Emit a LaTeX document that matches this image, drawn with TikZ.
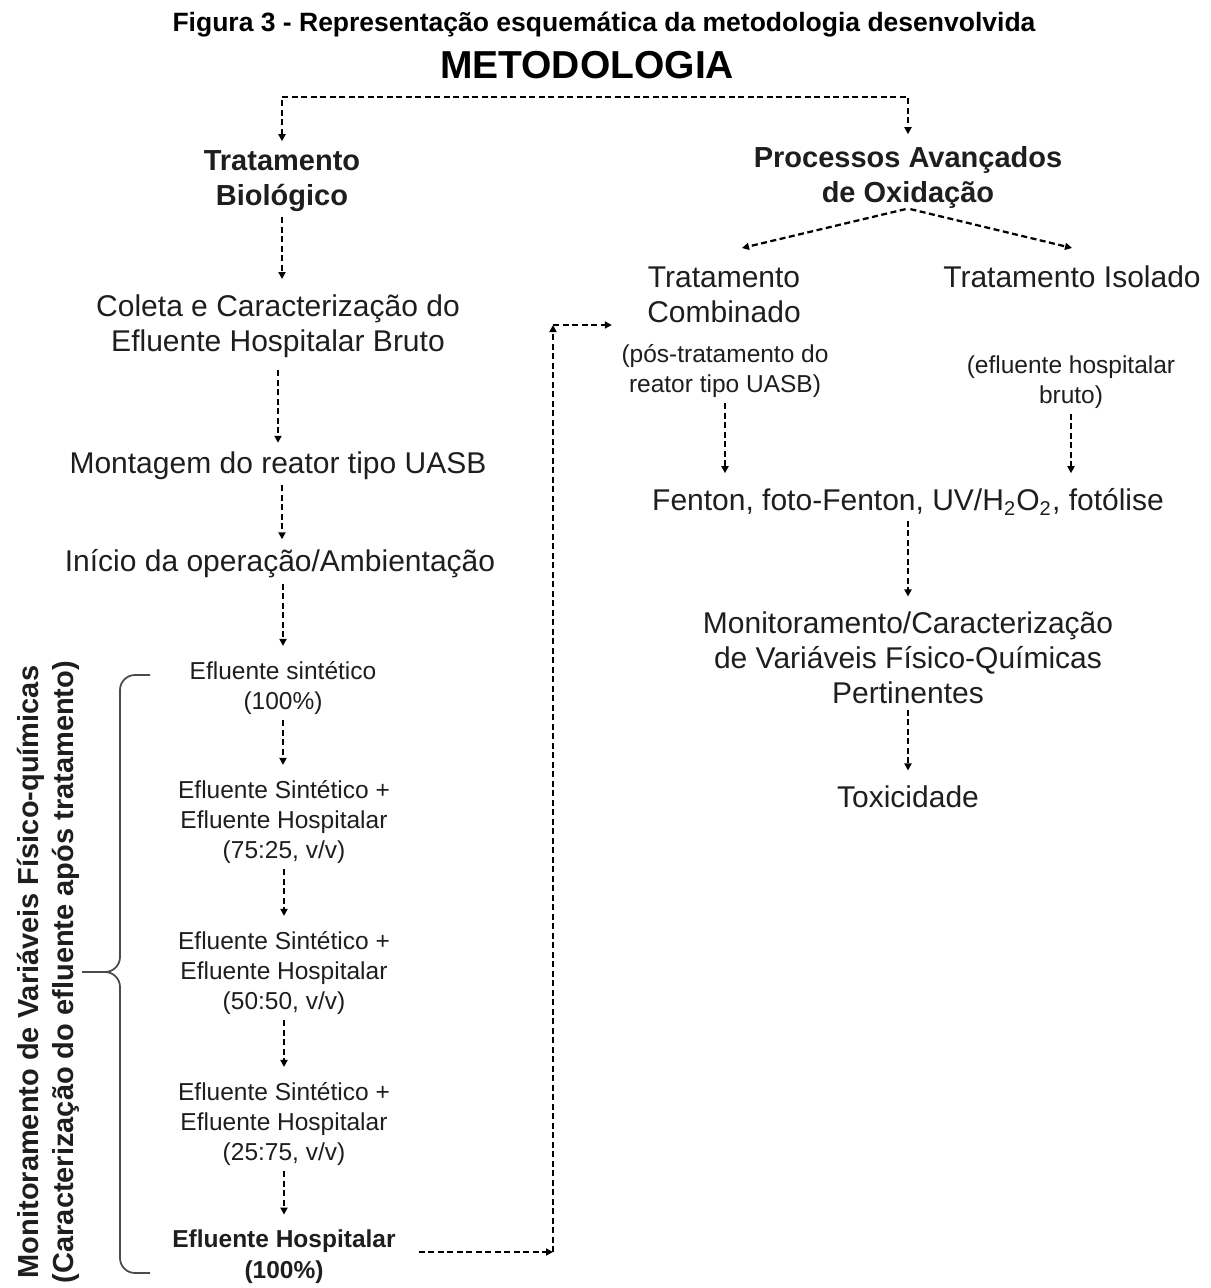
\documentclass[tikz,border=0pt]{standalone}
\usepackage{fontspec}
\setmainfont{Liberation Sans}
\usetikzlibrary{arrows.meta,positioning,calc}
\definecolor{Ink}{HTML}{1E1E1E}

\begin{document}
\begin{tikzpicture}[x=0.4pt,y=-0.4pt,
    txt/.style={inner sep=0pt,align=center,text=Ink,font={\fontsize{12}{14}\selectfont}},
    txtsmall/.style={inner sep=0pt,align=center,text=Ink,font={\fontsize{9.8}{12}\selectfont}},
    txtbold/.style={inner sep=0pt,align=center,text=Ink,font={\bfseries\fontsize{11.6}{14}\selectfont}},
    smallbold/.style={inner sep=0pt,align=center,text=Ink,font={\bfseries\fontsize{9.8}{12.4}\selectfont}},
    flow/.style={line width=0.9pt,dash pattern=on 2.4pt off 1.4pt,-{Triangle[length=2.8pt,width=2.8pt]}},
    gap/.style={flow,shorten <=2pt,shorten >=6pt}]
        \useasboundingbox (0,0) rectangle (1211,1288);
        % titles
        \node[inner sep=0pt,font={\bfseries\fontsize{10.6}{12}\selectfont}] (fig) at (604,25) {Figura 3 - Representação esquemática da metodologia desenvolvida};
        \node[inner sep=0pt,font={\bfseries\fontsize{15.6}{18}\selectfont}] (met) at (587,65) {METODOLOGIA};
        % left column
        \node[txtbold] (tb) at (282,181) {Tratamento\\Biológico};
        \node[txt] (cc) at (278,326) {Coleta e Caracterização do\\Efluente Hospitalar Bruto};
        \node[txt] (mr) at (278,466) {Montagem do reator tipo UASB};
        \node[txt] (io) at (280,564) {Início da operação/Ambientação};
        \node[txtsmall] (es) at (283,688) {Efluente sintético\\(100\%)};
        \node[txtsmall] (m75) at (284,822) {Efluente Sintético +\\Efluente Hospitalar\\(75:25, v/v)};
        \node[txtsmall] (m50) at (284,973) {Efluente Sintético +\\Efluente Hospitalar\\(50:50, v/v)};
        \node[txtsmall] (m25) at (284,1124) {Efluente Sintético +\\Efluente Hospitalar\\(25:75, v/v)};
        \node[smallbold] (eh) at (284,1257) {Efluente Hospitalar\\(100\%)};
        \node[txtbold,rotate=90] (mon) at (48,972) {Monitoramento de Variáveis Físico-químicas\\(Caracterização do efluente após tratamento)};
        % right column
        \node[txtbold] (pao) at (908,177) {Processos Avançados\\de Oxidação};
        \node[txt] (tc) at (724,295) {Tratamento\\Combinado};
        \node[txt] (ti) at (1072,277) {Tratamento Isolado};
        \node[txtsmall] (pt) at (725,371) {(pós-tratamento do\\reator tipo UASB)};
        \node[txtsmall] (ehb) at (1071,382) {(efluente hospitalar\\bruto)};
        \node[txt] (fen) at (908,502) {Fenton, foto-Fenton, UV/H\textsubscript{2}O\textsubscript{2}, fotólise};
        \node[txt] (mc) at (908,658) {Monitoramento/Caracterização\\de Variáveis Físico-Químicas\\Pertinentes};
        \node[txt] (tox) at (908,797) {Toxicidade};
        \coordinate (bar) at (600,97);
        \coordinate (tcin) at (742,248);
        \coordinate (tiin) at (1072,248);
        \coordinate (c1) at (553,1252);
        \coordinate (c2) at (553,325);
        % connectors
        \draw[flow,{Triangle[length=2.8pt,width=2.8pt]}-{Triangle[length=2.8pt,width=2.8pt]},shorten <=3.5pt,shorten >=4.5pt] (tb.north) |- (bar) -| (pao.north);
        \draw[gap] (tb.south) -- (tb.south |- cc.north);
        \draw[gap,shorten <=5pt,shorten >=3.5pt] (cc.south) -- (cc.south |- mr.north);
        \draw[gap,shorten >=4pt] (mr.south -| tb.south) -- (tb.south |- io.north);
        \draw[gap] (io.south -| es.south) -- (es.north);
        \draw[gap] (es.south) -- (es.south |- m75.north);
        \draw[gap] (m75.south) -- (m50.north);
        \draw[gap] (m50.south) -- (m25.north);
        \draw[gap] (m25.south) -- (eh.north);
        \draw[flow,shorten <=1pt] (pao.south) -- (tcin);
        \draw[flow,shorten <=1pt] (pao.south) -- (tiin);
        \draw[gap] (pt.south) -- (pt.south |- fen.north);
        \draw[gap] (ehb.south) -- (ehb.south |- fen.north);
        \draw[gap] (fen.south) -- (mc.north);
        \draw[gap] (mc.south) -- (tox.north);
        \draw[flow,line width=1pt,shorten <=9pt] (eh.east |- c1) -- (c1);
        \draw[flow,line width=1pt] (c1) -- (c2);
        \draw[flow,line width=1pt,shorten >=14pt] (c2) -- (c2 -| tc.west);
        % brace
        \draw[Ink!80,line width=0.7pt,rounded corners=6pt] (150,675) -- (120,675) -- (120,972) -- (82,972);
        \draw[Ink!80,line width=0.7pt,rounded corners=6pt] (150,1273) -- (120,1273) -- (120,972) -- (82,972);
      \end{tikzpicture}
\end{document}
